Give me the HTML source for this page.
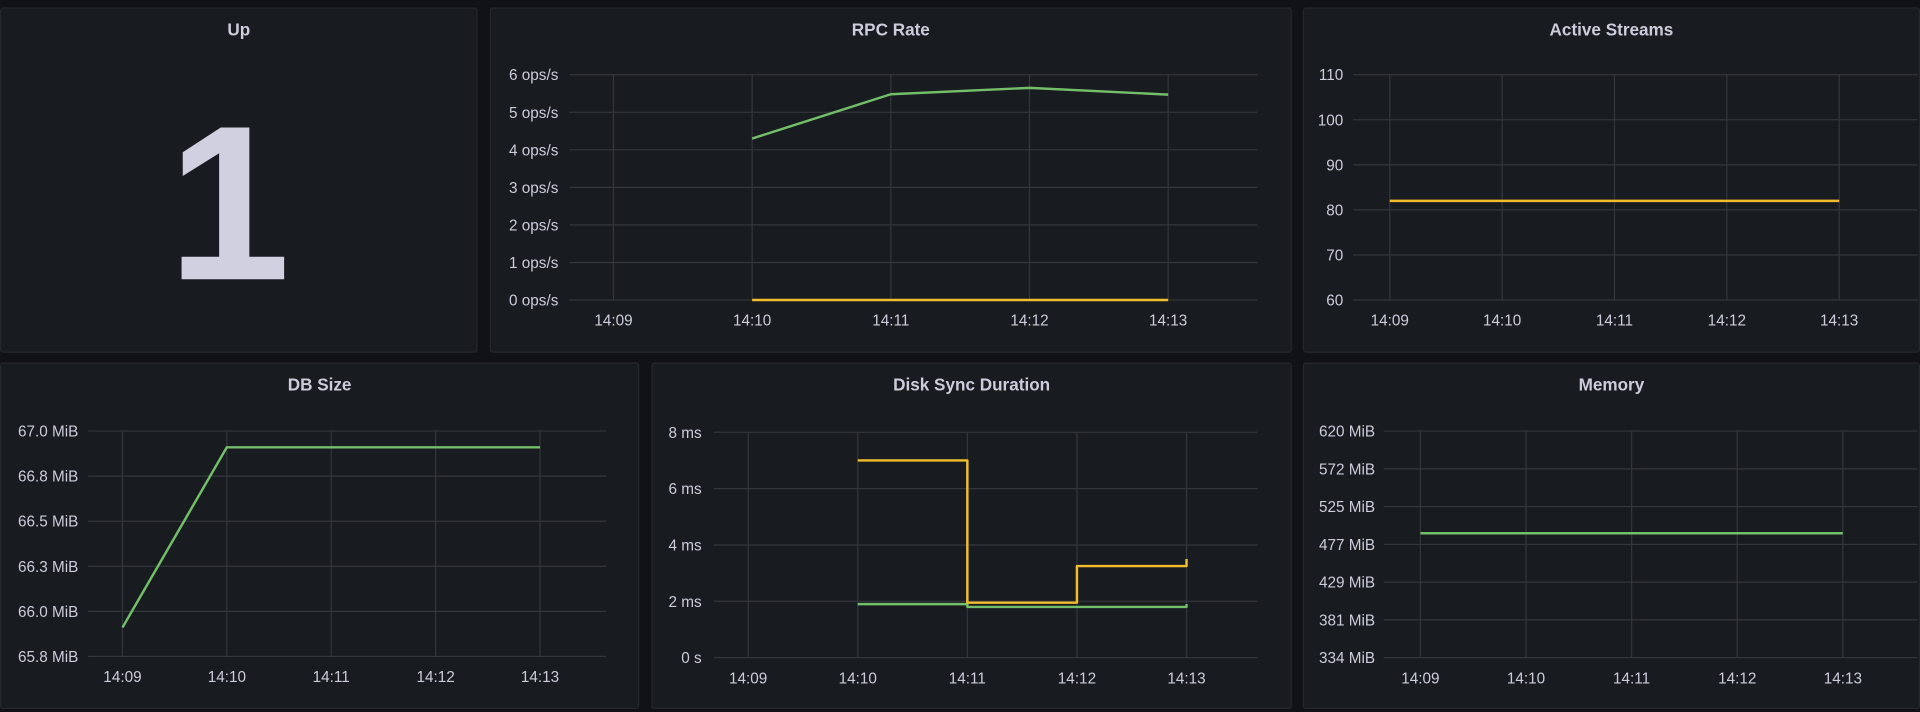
<!DOCTYPE html>
<html><head><meta charset="utf-8">
<style>
html,body{margin:0;padding:0;background:#111217;width:1920px;height:712px;overflow:hidden}
svg{display:block}
text{font-family:"Liberation Sans","Noto Sans CJK SC",sans-serif}
</style></head>
<body>
<svg id="dash" width="1920" height="712" viewBox="0 0 1568 581.4" preserveAspectRatio="none" xmlns="http://www.w3.org/2000/svg">
<rect x="0" y="0" width="1568" height="582" fill="#111217"/>
<g>
<rect x="0.5" y="6.5" width="389" height="281" rx="2" fill="#181b1f" stroke="#24272d"/>
<text x="195" y="29" fill="#ccccdc" font-size="14" font-weight="bold" text-anchor="middle">Up</text>
<text x="187" y="228" fill="#d0d0e0" font-size="180" font-weight="bold" text-anchor="middle">1</text>
</g>
<text x="1558" y="572" fill="#9a9aa8" font-size="8" text-anchor="end">林哥Linux</text>
</svg>
<script>
// RPC Rate
const rpcTimes=["14:09","14:10","14:11","14:12","14:13"];
const rpcTicks=[0,1,2,3,4,5,6];
const rpcGreenX=[1,2,3,4];
const rpcGreen=[4.3,5.48,5.65,5.47];
const rpcYellowX=[1,2,3,4];
const rpcYellow=[0,0,0,0];
// Active Streams
const streamTicks=[60,70,80,90,100,110];
const streamX=[0,1,2,3,4];
const streamYellow=[82,82,82,82,82];
// DB Size (MiB)
const dbTicks=[65.75,66.0,66.25,66.5,66.75,67.0];
const dbTickLabels=["65.8 MiB","66.0 MiB","66.3 MiB","66.5 MiB","66.8 MiB","67.0 MiB"];
const dbX=[0,1,2,3,4];
const dbGreen=[65.91,66.91,66.91,66.91,66.91];
// Disk Sync Duration (ms)
const diskTicks=[0,2,4,6,8];
const diskTickLabels=["0 s","2 ms","4 ms","6 ms","8 ms"];
const diskX=[1,2,3,4];
const diskYellow=[7.0,1.95,3.25,3.5];
const diskGreen=[1.9,1.8,1.8,1.9];
// Memory (MiB)
const memTicks=[334,381.7,429.3,477,524.7,572.3,620];
const memTickLabels=["334 MiB","381 MiB","429 MiB","477 MiB","525 MiB","572 MiB","620 MiB"];
const memX=[0,1,2,3,4];
const memGreen=[491,491,491,491,491];

const NS="http://www.w3.org/2000/svg";
const svg=document.getElementById('dash');
const GREEN="#73bf69",YELLOW="#f2bd2c";
function mk(tag,attrs,parent){const e=document.createElementNS(NS,tag);for(const k in attrs)e.setAttribute(k,attrs[k]);(parent||svg).appendChild(e);return e;}

function panel(cfg){
  const g=mk('g',{});
  
  
  const bg=mk('rect',{x:cfg.px+0.5,y:cfg.py+0.5,width:cfg.pw-1,height:cfg.ph-1,rx:2,fill:'#181b1f',stroke:'#24272d'},g);
  
  
  const t=mk('text',{x:cfg.px+cfg.pw/2,y:cfg.py+23,fill:'#ccccdc','font-size':14,'font-weight':'bold','text-anchor':'middle'},g);
  t.textContent=cfg.title;
  
  
  const ys=v=>cfg.y1+(cfg.y0-cfg.y1)*(v-cfg.min)/(cfg.max-cfg.min);
  const xs=i=>cfg.x0+i*cfg.dx;
  cfg.ticks.forEach((v,i)=>{
    const gl=mk('line',{x1:cfg.gl,x2:cfg.gr,y1:ys(v),y2:ys(v),stroke:'#33363c','stroke-width':1},g);
    
    
    const lb=mk('text',{x:cfg.lx,y:ys(v)+4.5,fill:'#ccccdc','font-size':12.5,'text-anchor':'end'},g);
    lb.textContent=cfg.labels?cfg.labels[i]:cfg.fmt(v);
    
    
  });
  rpcTimes.forEach((tt,i)=>{
    const gl=mk('line',{x1:xs(i),x2:xs(i),y1:cfg.y0,y2:cfg.y1,stroke:'#33363c','stroke-width':1},g);
    
    
    const lb=mk('text',{x:xs(i),y:cfg.y1+21,fill:'#ccccdc','font-size':12.5,'text-anchor':'middle'},g);
    lb.textContent=tt;
    
    
  });
  cfg.series.forEach(s=>{
    let d='';
    s.x.forEach((xi,i)=>{
      const X=xs(xi),Y=ys(s.v[i]);
      if(i===0) d+='M'+X+' '+Y;
      else if(s.step){ d+=' L'+X+' '+ys(s.v[i-1])+' L'+X+' '+Y; }
      else d+=' L'+X+' '+Y;
    });
    const p=mk('path',{d:d,fill:'none',stroke:s.color,'stroke-width':2,'stroke-linejoin':'round'},g);
    
    
  });
}

panel({name:'rpc-rate-panel',title:'RPC Rate',px:400,py:6,pw:655,ph:282,x0:501,dx:113.25,y0:61,y1:245,gl:465,gr:1027,lx:456,min:0,max:6,ticks:rpcTicks,fmt:v=>v+' ops/s',
  series:[{name:'rpc-rate-green-line',x:rpcGreenX,v:rpcGreen,color:GREEN},{name:'rpc-rate-yellow-line',x:rpcYellowX,v:rpcYellow,color:YELLOW}]});
panel({name:'active-streams-panel',title:'Active Streams',px:1064,py:6,pw:504,ph:282,x0:1135,dx:91.75,y0:61,y1:245,gl:1105,gr:1566,lx:1097,min:60,max:110,ticks:streamTicks,fmt:v=>String(v),
  series:[{name:'active-streams-line',x:streamX,v:streamYellow,color:YELLOW}]});
panel({name:'db-size-panel',title:'DB Size',px:0,py:296,pw:522,ph:283,x0:100,dx:85.25,y0:352,y1:536,gl:72,gr:495,lx:64,min:65.75,max:67.0,ticks:dbTicks,labels:dbTickLabels,
  series:[{name:'db-size-line',x:dbX,v:dbGreen,color:GREEN}]});
panel({name:'disk-sync-panel',title:'Disk Sync Duration',px:532,py:296,pw:523,ph:283,x0:611,dx:89.5,y0:353,y1:537,gl:583,gr:1027,lx:573,min:0,max:8,ticks:diskTicks,labels:diskTickLabels,
  series:[{name:'disk-sync-green-line',x:diskX,v:diskGreen,color:GREEN,step:true},{name:'disk-sync-yellow-line',x:diskX,v:diskYellow,color:YELLOW,step:true}]});
panel({name:'memory-panel',title:'Memory',px:1064,py:296,pw:504,ph:283,x0:1160,dx:86.25,y0:352,y1:537,gl:1130,gr:1566,lx:1123,min:334,max:620,ticks:memTicks,labels:memTickLabels,
  series:[{name:'memory-line',x:memX,v:memGreen,color:GREEN}]});
</script>
</body></html>
